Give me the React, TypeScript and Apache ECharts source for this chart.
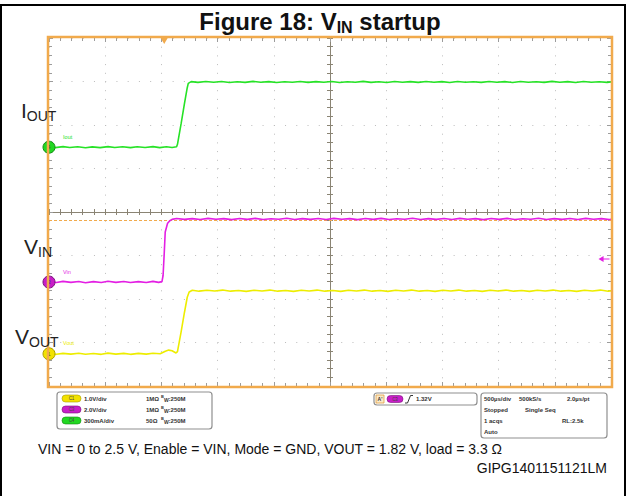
import React, { useEffect, useRef } from "react";
import * as echarts from "echarts";

// ---------- screen / timebase ----------
const TIME_PER_DIV_US = 500;
const TRIGGER_POS_DIV = -2.95; // trigger instant relative to screen centre (div)
const X_DIV_RANGE = [-5, 5];
const Y_DIV_RANGE = [-4, 4];

// ---------- channels: C1 = VOUT, C3 = VIN, C4 = IOUT ----------
const CH_NAMES = ["C1", "C3", "C4"];
const CH_NUMBERS = ["1", "3", "4"];
const CH_SCALES = [1.0, 2.0, 0.3]; // V/div, V/div, A/div
const CH_OFFSETS_DIV = [-3.26, -1.61, 1.49]; // ground marker positions
const CH_TRACE_LABELS = ["Vout", "Vin", "Iout"];
const CH_COLORS = ["#eded00", "#e31fe3", "#26e226"];
const CH_MARKER_FILL = ["#f2e200", "#c81ec8", "#22d822"];
const CH_MARKER_EDGE = ["#a89c00", "#7a107a", "#128a12"];

// time in µs after trigger, value in physical units
const VOUT_V: [number, number][] = [
  [-1030, 0.005], [-960, -0.012], [-900, 0.01], [-830, -0.008], [-760, 0.012], [-700, -0.01],
  [-630, 0.008], [-560, -0.012], [-500, 0.015], [-430, -0.008], [-360, 0.01], [-300, -0.012],
  [-230, 0.01], [-160, -0.008], [-100, 0.012], [-36, 0.0],
  [10, 0.06], [40, 0.085], [70, 0.07], [105, 0.02], [118, 0.05],
  [150, 0.5], [180, 0.95], [205, 1.3], [222, 1.42], [250, 1.46],
  [310, 1.44], [380, 1.46], [450, 1.445], [520, 1.465], [590, 1.44], [660, 1.455], [730, 1.435],
  [800, 1.46], [870, 1.445], [940, 1.465], [1010, 1.44], [1080, 1.455], [1150, 1.435], [1220, 1.46],
  [1290, 1.445], [1360, 1.465], [1430, 1.44], [1500, 1.455], [1570, 1.435], [1640, 1.46], [1710, 1.445],
  [1780, 1.465], [1850, 1.44], [1920, 1.455], [1990, 1.435], [2060, 1.46], [2130, 1.445], [2200, 1.465],
  [2270, 1.44], [2340, 1.455], [2410, 1.435], [2480, 1.46], [2550, 1.445], [2620, 1.465], [2690, 1.44],
  [2760, 1.455], [2830, 1.435], [2900, 1.46], [2970, 1.445], [3040, 1.465], [3110, 1.44], [3180, 1.455],
  [3250, 1.435], [3320, 1.46], [3390, 1.445], [3460, 1.465], [3530, 1.44], [3600, 1.455], [3670, 1.435],
  [3740, 1.46], [3810, 1.445], [3880, 1.465], [3950, 1.44], [4020, 1.455], [4090, 1.445],
];

const VIN_V: [number, number][] = [
  [-1030, 0.015], [-960, -0.025], [-900, 0.03], [-830, -0.015], [-760, 0.025], [-700, -0.03],
  [-630, 0.02], [-560, -0.02], [-500, 0.035], [-430, -0.015], [-360, 0.025], [-300, -0.025],
  [-230, 0.02], [-160, -0.02], [-100, 0.03], [-50, -0.015], [-20, 0.02],
  [-10, 0.3], [0, 1.3], [9, 2.3], [30, 2.7], [50, 2.82], [70, 2.88],
  [110, 2.92], [180, 2.88], [250, 2.915], [320, 2.875], [390, 2.925], [460, 2.885], [530, 2.915],
  [600, 2.87], [670, 2.92], [740, 2.88], [810, 2.925], [880, 2.875], [950, 2.91], [1020, 2.885],
  [1090, 2.93], [1160, 2.875], [1230, 2.915], [1300, 2.88], [1370, 2.92], [1440, 2.875], [1510, 2.925],
  [1580, 2.885], [1650, 2.915], [1720, 2.87], [1790, 2.92], [1860, 2.88], [1930, 2.925], [2000, 2.875],
  [2070, 2.91], [2140, 2.885], [2210, 2.93], [2280, 2.875], [2350, 2.915], [2420, 2.88], [2490, 2.92],
  [2560, 2.875], [2630, 2.925], [2700, 2.885], [2770, 2.915], [2840, 2.87], [2910, 2.92], [2980, 2.88],
  [3050, 2.925], [3120, 2.875], [3190, 2.91], [3260, 2.885], [3330, 2.93], [3400, 2.875], [3470, 2.915],
  [3540, 2.88], [3610, 2.92], [3680, 2.875], [3750, 2.925], [3820, 2.885], [3890, 2.915], [3960, 2.875],
  [4030, 2.91], [4100, 2.9],
];

const IOUT_A: [number, number][] = [
  [-1030, 0.002], [-970, -0.003], [-900, 0.004], [-840, -0.002], [-770, 0.003], [-700, -0.004],
  [-640, 0.002], [-570, -0.003], [-500, 0.004], [-440, -0.002], [-370, 0.003], [-300, -0.003],
  [-240, 0.003], [-170, -0.002], [-100, 0.004], [-40, -0.003], [20, 0.003], [70, -0.002], [110, 0.003],
  [118, 0.02], [150, 0.16], [180, 0.3], [205, 0.41], [214, 0.44], [240, 0.452],
  [300, 0.447], [370, 0.453], [440, 0.448], [510, 0.453], [580, 0.446], [650, 0.451], [720, 0.447],
  [790, 0.454], [860, 0.448], [930, 0.452], [1000, 0.446], [1070, 0.451], [1140, 0.448], [1210, 0.453],
  [1280, 0.447], [1350, 0.452], [1420, 0.448], [1490, 0.453], [1560, 0.446], [1630, 0.451], [1700, 0.448],
  [1770, 0.454], [1840, 0.447], [1910, 0.451], [1980, 0.446], [2050, 0.453], [2120, 0.448], [2190, 0.452],
  [2260, 0.447], [2330, 0.453], [2400, 0.448], [2470, 0.452], [2540, 0.446], [2610, 0.453], [2680, 0.448],
  [2750, 0.451], [2820, 0.447], [2890, 0.453], [2960, 0.448], [3030, 0.452], [3100, 0.446], [3170, 0.453],
  [3240, 0.448], [3310, 0.451], [3380, 0.447], [3450, 0.454], [3520, 0.448], [3590, 0.452], [3660, 0.446],
  [3730, 0.453], [3800, 0.448], [3870, 0.451], [3940, 0.447], [4010, 0.453], [4080, 0.449],
];

const REF_LEVEL_DIV = -0.18; // orange dashed reference line
const C3_TRIGGER_ARROW_DIV = -1.08; // magenta arrow at right edge

// ---------- readout panel texts ----------
const LEGEND_SCALES = ["1.0V/div", "2.0V/div", "300mA/div"];
const LEGEND_IMPEDANCE = ["1MΩ", "1MΩ", "50Ω"];
const LEGEND_BW = ":250M";
const LEGEND_ORDER = [0, 1, 2];
const TRIGGER_LEVEL_TEXT = "1.32V";
const TIMEBASE_TEXT = [
  ["500µs/div", "500kS/s", "2.0µs/pt"],
  ["Stopped", "Single Seq", ""],
  ["1 acqs", "", "RL:2.5k"],
  ["Auto", "", ""],
];
const TITLE_MAIN = "Figure 18: V";
const TITLE_SUB = "IN";
const TITLE_END = " startup";
const CAPTION = "VIN = 0 to 2.5 V, Enable = VIN, Mode = GND, VOUT = 1.82 V, load = 3.3 Ω";
const FIG_CODE = "GIPG1401151121LM";
const SIDE_LABELS = [
  { main: "I", sub: "OUT" },
  { main: "V", sub: "IN" },
  { main: "V", sub: "OUT" },
];

// ---------- layout ----------
const GRID = { left: 49, top: 38, width: 562, height: 348 };
const FONT = "'Liberation Sans', Arial, sans-serif";
const ORANGE = "#f1aa4c";
const AXIS_DARK = "#8a8474";
const TICK_GREY = "#9c9c9c";
const DOT_GREY = "#bcbcbc";

function toScreen(data: [number, number][], ch: number) {
  return data.map(([t, v]) => [t / TIME_PER_DIV_US + TRIGGER_POS_DIV, v / CH_SCALES[ch] + CH_OFFSETS_DIV[ch]]);
}

function txt(x: number, y: number, text: string, size: number, extra: any = {}) {
  return {
    type: "text",
    x,
    y,
    silent: true,
    style: {
      text,
      fontSize: size,
      fontFamily: FONT,
      fontWeight: extra.weight || "normal",
      fill: extra.fill || "#222",
      align: extra.align || "left",
      textAlign: extra.align || "left",
      verticalAlign: extra.va || "middle",
      textVerticalAlign: extra.va || "middle",
      ...(extra.rich ? { rich: extra.rich } : {}),
    },
    z: extra.z || 20,
  };
}

function baseValueAxis(range: number[], extra: any) {
  return {
    type: "value",
    min: range[0],
    max: range[1],
    interval: 1,
    axisLabel: { show: false },
    splitLine: { show: false },
    ...extra,
  };
}

export default function App() {
  const ref = useRef<HTMLDivElement>(null);

  useEffect(() => {
    if (!ref.current) return;
    const chart = echarts.init(ref.current, undefined, { renderer: "svg" });

    const centreTick = { show: true, length: 3, lineStyle: { color: AXIS_DARK, width: 1 } };
    const edgeTick = { show: true, inside: true, length: 4, lineStyle: { color: TICK_GREY, width: 1 } };
    const edgeMinor = { show: true, splitNumber: 5, length: 3, lineStyle: { color: TICK_GREY, width: 1 } };
    const centreMinor = { show: true, splitNumber: 5, length: 3, lineStyle: { color: AXIS_DARK, width: 1 } };

    const xAxis = [
      baseValueAxis(X_DIV_RANGE, {
        position: "bottom",
        axisLine: { show: true, onZero: true, lineStyle: { color: AXIS_DARK, width: 1 } },
        axisTick: { ...centreTick, inside: true },
        minorTick: centreMinor,
        splitLine: { show: true, lineStyle: { color: DOT_GREY, width: 1, type: [1, 7.7] } },
      }),
      baseValueAxis(X_DIV_RANGE, {
        position: "bottom",
        axisLine: { show: false, onZero: true, onZeroAxisIndex: 0 },
        axisTick: { ...centreTick, inside: false },
        minorTick: centreMinor,
      }),
      baseValueAxis(X_DIV_RANGE, {
        position: "bottom",
        axisLine: { show: true, onZero: false, lineStyle: { color: "#77736a", width: 1 } },
        axisTick: edgeTick,
        minorTick: edgeMinor,
      }),
      baseValueAxis(X_DIV_RANGE, {
        position: "top",
        axisLine: { show: false, onZero: false },
        axisTick: edgeTick,
        minorTick: edgeMinor,
      }),
    ];
    const yAxis = [
      baseValueAxis(Y_DIV_RANGE, {
        position: "left",
        axisLine: { show: true, onZero: true, lineStyle: { color: AXIS_DARK, width: 1 } },
        axisTick: { ...centreTick, inside: true },
        minorTick: centreMinor,
        splitLine: { show: true, lineStyle: { color: DOT_GREY, width: 1, type: [1, 10.24] } },
      }),
      baseValueAxis(Y_DIV_RANGE, {
        position: "left",
        axisLine: { show: false, onZero: true, onZeroAxisIndex: 0 },
        axisTick: { ...centreTick, inside: false },
        minorTick: centreMinor,
      }),
      baseValueAxis(Y_DIV_RANGE, {
        position: "left",
        axisLine: { show: false, onZero: false },
        axisTick: edgeTick,
        minorTick: edgeMinor,
      }),
      baseValueAxis(Y_DIV_RANGE, {
        position: "right",
        axisLine: { show: false, onZero: false },
        axisTick: edgeTick,
        minorTick: edgeMinor,
      }),
    ];

    const traces = [VOUT_V, VIN_V, IOUT_A];
    const series: any[] = traces.map((d, ch) => ({
      type: "line",
      name: CH_NAMES[ch],
      xAxisIndex: 0,
      yAxisIndex: 0,
      data: toScreen(d, ch),
      showSymbol: false,
      symbol: "none",
      clip: true,
      z: 5,
      lineStyle: { color: CH_COLORS[ch], width: 1.6 },
      markPoint: {
        silent: true,
        z: 8,
        data: [
          {
            coord: [X_DIV_RANGE[0], CH_OFFSETS_DIV[ch]],
            symbol: "circle",
            symbolSize: 12,
            itemStyle: { color: CH_MARKER_FILL[ch], borderColor: CH_MARKER_EDGE[ch], borderWidth: 1 },
            label: { show: true, position: "inside", formatter: () => CH_NUMBERS[ch], fontSize: 6, color: "#333", fontFamily: FONT },
          },
          {
            coord: [X_DIV_RANGE[0] + 0.25, CH_OFFSETS_DIV[ch] + 0.24],
            symbol: "circle",
            symbolSize: 0,
            label: { show: true, position: "right", distance: 0, formatter: () => CH_TRACE_LABELS[ch], fontSize: 5.5, color: CH_COLORS[ch], fontFamily: FONT },
          },
        ],
      },
    }));

    // reference/trigger decorations
    series.push({
      type: "line",
      xAxisIndex: 0,
      yAxisIndex: 0,
      data: [],
      z: 2,
      markLine: {
        silent: true,
        symbol: "none",
        label: { show: false },
        lineStyle: { color: ORANGE, type: [3, 2], width: 1 },
        data: [{ yAxis: REF_LEVEL_DIV }],
      },
      markPoint: {
        silent: true,
        data: [
          {
            coord: [TRIGGER_POS_DIV, Y_DIV_RANGE[1]],
            symbol: "triangle",
            symbolRotate: 180,
            symbolSize: [7, 6],
            symbolOffset: [0, 3],
            itemStyle: { color: ORANGE },
            label: { show: false },
          },
          {
            coord: [X_DIV_RANGE[1], C3_TRIGGER_ARROW_DIV],
            symbol: "path://M0,5 L6,0 L6,4 L13,4 L13,6 L6,6 L6,10 Z",
            symbolSize: [11, 6],
            symbolOffset: [-7, 0],
            itemStyle: { color: CH_COLORS[1] },
            label: { show: false },
          },
        ],
      },
    });

    // ---------- graphics (frame, labels, readouts) ----------
    const g: any[] = [];
    g.push({
      type: "polyline",
      silent: true,
      shape: { points: [[1, 496], [1, 5], [625, 5], [625, 496]] },
      style: { stroke: "#000", lineWidth: 2, fill: "none" },
      z: 30,
    });
    g.push({
      type: "rect",
      silent: true,
      shape: { x: GRID.left - 1, y: GRID.top - 1, width: GRID.width + 2, height: GRID.height + 2 },
      style: { stroke: ORANGE, lineWidth: 2.5, fill: "none" },
      z: 15,
    });
    // title
    g.push(
      txt(320, 21, `{a|${TITLE_MAIN}}{b|${TITLE_SUB}}{a|${TITLE_END}}`, 24, {
        align: "center",
        rich: {
          a: { fontSize: 24, fontWeight: "bold", fontFamily: FONT, lineHeight: 28, fill: "#111" },
          b: { fontSize: 16, fontWeight: "bold", fontFamily: FONT, lineHeight: 14, verticalAlign: "bottom", fill: "#111" },
        },
      })
    );
    // side labels
    const sideY = [97, 233, 323];
    const sideX = [21, 24, 15];
    SIDE_LABELS.forEach((l, i) => {
      g.push(
        txt(sideX[i], sideY[i], `{m|${l.main}}{s|${l.sub}}`, 21, {
          va: "top",
          rich: {
            m: { fontSize: 21, fontFamily: FONT, lineHeight: 26, fill: "#222" },
            s: { fontSize: 14, fontFamily: FONT, lineHeight: 10, verticalAlign: "bottom", fill: "#222" },
          },
        })
      );
    });

    // channel legend box
    g.push({
      type: "rect",
      silent: true,
      shape: { x: 57, y: 392, width: 155, height: 37, r: 3 },
      style: { fill: "#fff", stroke: "#8f8f8f", lineWidth: 1.2 },
      z: 18,
    });
    const rowsY = [398.5, 409.5, 420.5];
    LEGEND_ORDER.forEach((ch, i) => {
      const y = rowsY[i];
      g.push({
        type: "rect",
        silent: true,
        shape: { x: 62, y: y - 3.5, width: 19, height: 7, r: 3.5 },
        style: { fill: CH_MARKER_FILL[ch], stroke: CH_MARKER_EDGE[ch], lineWidth: 0.6 },
        z: 19,
      });
      g.push(txt(71.5, y, CH_NAMES[ch], 4.5, { align: "center", fill: "#444" }));
      g.push(txt(84, y, LEGEND_SCALES[ch], 6, { weight: "bold", fill: "#333" }));
      g.push(txt(146, y, LEGEND_IMPEDANCE[ch], 6, { weight: "bold", fill: "#333" }));
      g.push(
        txt(161, y, `{b|B}{w|W}{n|${LEGEND_BW}}`, 6, {
          rich: {
            b: { fontSize: 4, fontFamily: FONT, fontWeight: "bold", lineHeight: 8, verticalAlign: "top", fill: "#333" },
            w: { fontSize: 5, fontFamily: FONT, fontWeight: "bold", lineHeight: 6, verticalAlign: "bottom", fill: "#333" },
            n: { fontSize: 6, fontFamily: FONT, fontWeight: "bold", lineHeight: 8, fill: "#333" },
          },
        })
      );
    });

    // trigger readout
    g.push({
      type: "rect",
      silent: true,
      shape: { x: 374, y: 393, width: 103, height: 12, r: 3 },
      style: { fill: "#fff", stroke: "#8f8f8f", lineWidth: 1.2 },
      z: 18,
    });
    g.push({
      type: "rect",
      silent: true,
      shape: { x: 376, y: 395, width: 8, height: 8 },
      style: { fill: "#fbe9c8", stroke: "#e0a040", lineWidth: 0.8 },
      z: 19,
    });
    g.push(txt(380, 399, "A'", 5, { align: "center", weight: "bold", fill: "#333" }));
    g.push({
      type: "rect",
      silent: true,
      shape: { x: 387, y: 395.5, width: 16, height: 7, r: 3.5 },
      style: { fill: CH_MARKER_FILL[1], stroke: CH_MARKER_EDGE[1], lineWidth: 0.6 },
      z: 19,
    });
    g.push(txt(395, 399, CH_NAMES[1], 4.5, { align: "center", fill: "#444" }));
    g.push({
      type: "polyline",
      silent: true,
      shape: { points: [[405, 403], [407.5, 403], [410.5, 395.5], [413, 395.5]] },
      style: { stroke: "#333", lineWidth: 1, fill: "none" },
      z: 19,
    });
    g.push(txt(416, 399, TRIGGER_LEVEL_TEXT, 6, { weight: "bold", fill: "#333" }));

    // timebase readout
    g.push({
      type: "rect",
      silent: true,
      shape: { x: 481, y: 393, width: 126, height: 45, r: 3 },
      style: { fill: "#fff", stroke: "#8f8f8f", lineWidth: 1.2 },
      z: 18,
    });
    const tbX = [484, 519, 567];
    const tbX2 = [484, 525, 562];
    const tbY = [398.5, 409.5, 420.5, 431.5];
    TIMEBASE_TEXT.forEach((row, r) => {
      row.forEach((s, c) => {
        if (!s) return;
        const x = r === 0 ? tbX[c] : tbX2[c];
        g.push(txt(x, tbY[r], s, 6, { weight: "bold", fill: "#333" }));
      });
    });

    // captions
    g.push(txt(38, 449, CAPTION, 14, { fill: "#111" }));
    g.push(txt(607, 468, FIG_CODE, 14, { align: "right", fill: "#111" }));

    chart.setOption({
      animation: false,
      backgroundColor: "#ffffff",
      grid: { left: GRID.left, top: GRID.top, width: GRID.width, height: GRID.height, containLabel: false },
      xAxis,
      yAxis,
      series,
      graphic: { elements: g },
    });

    return () => chart.dispose();
  }, []);

  return (
    <div
      ref={ref}
      style={{ position: "fixed", left: 0, top: 0, width: 627, height: 496, background: "#fff" }}
    />
  );
}
